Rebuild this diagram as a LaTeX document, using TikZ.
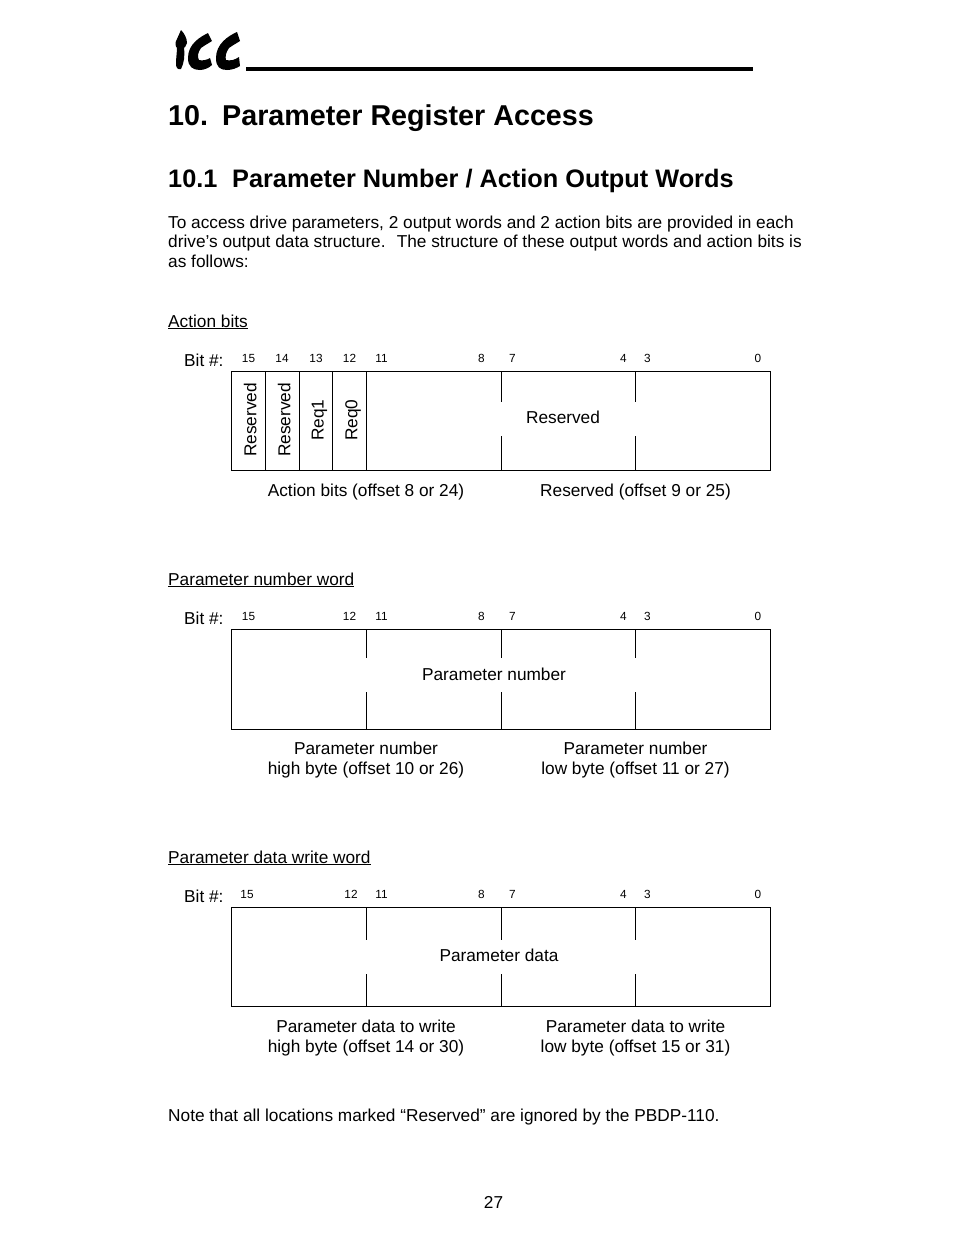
\documentclass[tikz,border=0pt]{standalone}
\usepackage{fontspec}
\setmainfont{Liberation Sans}
\newcommand{\fs}[1]{\fontsize{#1}{#1}\selectfont}
\tikzset{
 x=1pt,y=-1pt,
 body/.style={anchor=base west,inner sep=0pt,font=\fs{17.26}},
 cen/.style={anchor=base,inner sep=0pt,font=\fs{17.26},align=center},
 bitn/.style={anchor=base,inner sep=0pt,font=\fs{11.8}},
 vert/.style={anchor=base west,inner sep=0pt,font=\fs{17.26},rotate=90},
 box/.style={draw=black,line width=1pt},
 tick/.style={draw=black,line width=1pt},
 ttl/.style={anchor=base west,inner sep=0pt,font=\bfseries\fs{28.7}},
 sub/.style={anchor=base west,inner sep=0pt,font=\bfseries\fs{25.3}},
 logo/.style={fill=black,draw=none},
}
\newcommand{\ubar}[1]{\underline{#1}}
\begin{document}
\begin{tikzpicture}
\useasboundingbox (0,0) rectangle (954,1235);
\fill[white] (0,0) rectangle (954,1235);
% logo
\fill[logo] (181,30) .. controls (184,33) and (187,38) .. (187,43) .. controls (186,46) and (185,47) .. (184,48) .. controls (185,56) and (184,63) .. (181,69) .. controls (178,70) and (176,68) .. (176,64) .. controls (176,58) and (177,52) .. (177,48) .. controls (175,46) and (175,42) .. (177,39) -- cycle;
\fill[logo] (208,33) .. controls (200,37) and (188,44) .. (188,58) .. controls (188,67) and (193,70) .. (200,70) .. controls (204,70) and (209,68) .. (212,65) -- (210,58) .. controls (207,60) and (202,61) .. (199,60) .. controls (197,57) and (198,52) .. (201,48) .. controls (205,45) and (209,43) .. (212,41) -- cycle;
\fill[logo] (237,32) .. controls (228,36) and (216,44) .. (216,58) .. controls (216,67) and (220,70) .. (227,70) .. controls (232,70) and (237,68) .. (240,66) -- (239,57) .. controls (235,60) and (230,61) .. (226,60) .. controls (225,57) and (226,52) .. (229,48) .. controls (233,45) and (237,43) .. (240,41) -- cycle;
\draw[black,line width=4pt] (246,69) -- (753,69);
% headings
\node[ttl] (h1) at (168,125) {10.};
\node[ttl] (h1b) at (222,125) {Parameter Register Access};
\node[sub] (h2) at (168,187) {10.1};
\node[sub] (h2b) at (232,187) {Parameter Number / Action Output Words};
\node[body] (p1) at (168,228) {To access drive parameters, 2 output words and 2 action bits are provided in each};
\node[body] (p2) at (168,247) {drive’s output data structure.\hspace{4.8pt} The structure of these output words and action bits is};
\node[body] (p3) at (168,267) {as follows:};
% Action bits
\node[body] (t1) at (168,327) {\ubar{Action bits}};
\node[body] (b1) at (184,366) {Bit \#:};
\foreach \n/\x/\l in {a15/248.5/15,a14/282/14,a13/316/13,a12/349.5/12,a11/381.5/11,a8/481.5/8,a7/512.5/7,a4/623.5/4,a3/647.5/3,a0/758/0}
  \node[bitn] (\n) at (\x,362) {\l};
\draw[box] (231.5,371.5) rectangle (770.5,470.5);
\foreach \x in {265.5,299.5,332.5,366.5} \draw[tick] (\x,371.5) -- (\x,470.5);
\foreach \x in {501.5,635.5} { \draw[tick] (\x,371.5) -- (\x,402); \draw[tick] (\x,436) -- (\x,470.5); }
\node[vert] (r1) at (256.3,457) {Reserved};
\node[vert] (r2) at (290.3,457) {Reserved};
\node[vert] (r3) at (323.5,441) {Req1};
\node[vert] (r4) at (357.3,441) {Req0};
\node[cen] (r5) at (563,423) {Reserved};
\node[cen] (c1) at (366,496) {Action bits (offset 8 or 24)};
\node[cen] (c2) at (635.5,496) {Reserved (offset 9 or 25)};
% Parameter number
\node[body] (t2) at (168,585) {\ubar{Parameter number word}};
\node[body] (b2) at (184,624) {Bit \#:};
\foreach \n/\x/\l in {b15/248.5/15,b12/349.5/12,b11/381.5/11,b8/481.5/8,b7/512.5/7,b4/623.5/4,b3/647.5/3,b0/758/0}
  \node[bitn] (\n) at (\x,620) {\l};
\draw[box] (231.5,629.5) rectangle (770.5,729.5);
\foreach \x in {366.5,501.5,635.5} { \draw[tick] (\x,629.5) -- (\x,658); \draw[tick] (\x,692) -- (\x,729.5); }
\node[cen] (n1) at (494,680) {Parameter number};
\node[cen] (d1) at (366,754) {Parameter number};
\node[cen] (d2) at (366,774) {high byte (offset 10 or 26)};
\node[cen] (d3) at (635.5,754) {Parameter number};
\node[cen] (d4) at (635.5,774) {low byte (offset 11 or 27)};
% Parameter data
\node[body] (t3) at (168,863) {\ubar{Parameter data write word}};
\node[body] (b3) at (184,902) {Bit \#:};
\foreach \n/\x/\l in {e15/247/15,e12/351/12,e11/381.5/11,e8/481.5/8,e7/512.5/7,e4/623.5/4,e3/647.5/3,e0/758/0}
  \node[bitn] (\n) at (\x,898) {\l};
\draw[box] (231.5,907.5) rectangle (770.5,1006.5);
\foreach \x in {366.5,501.5,635.5} { \draw[tick] (\x,907.5) -- (\x,940); \draw[tick] (\x,974) -- (\x,1006.5); }
\node[cen] (n2) at (499,961) {Parameter data};
\node[cen] (f1) at (366,1032) {Parameter data to write};
\node[cen] (f2) at (366,1052) {high byte (offset 14 or 30)};
\node[cen] (f3) at (635.5,1032) {Parameter data to write};
\node[cen] (f4) at (635.5,1052) {low byte (offset 15 or 31)};
\node[body] (nt) at (168,1121) {Note that all locations marked “Reserved” are ignored by the PBDP-110.};
\node[cen] (pg) at (493.5,1208) {27};
\end{tikzpicture}
\end{document}
